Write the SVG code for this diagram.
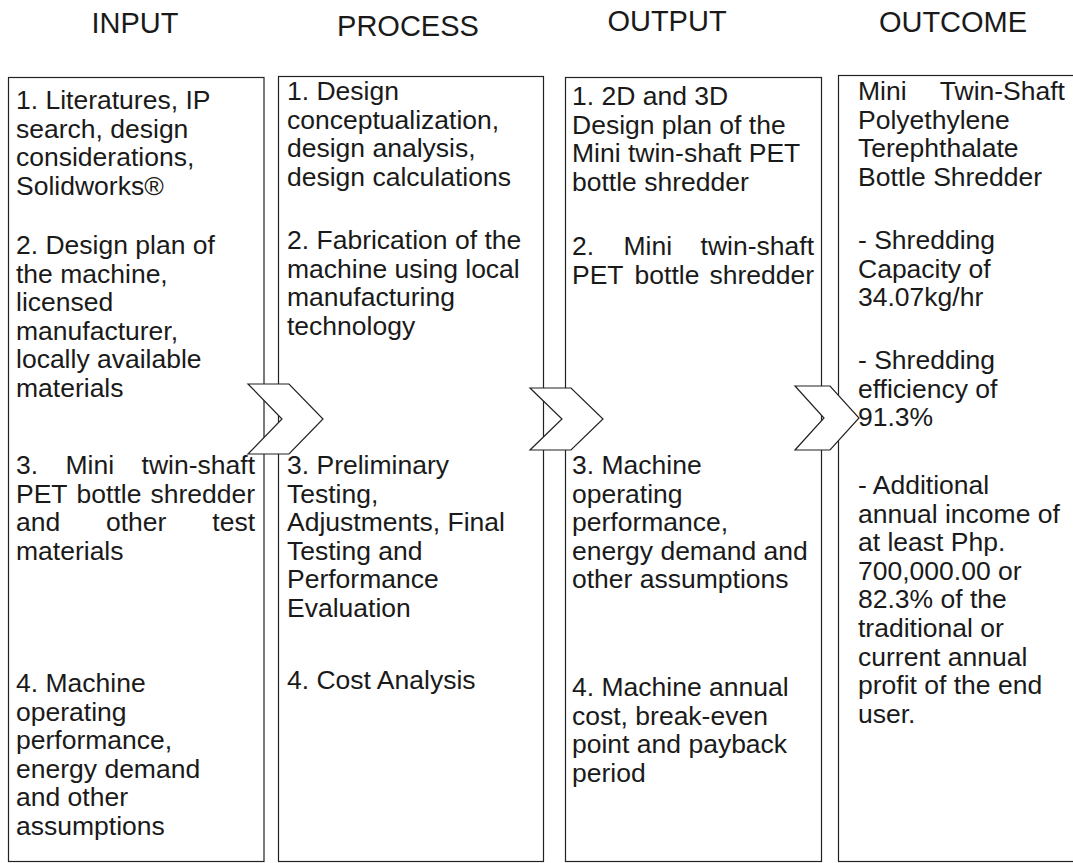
<svg xmlns="http://www.w3.org/2000/svg" width="1073" height="863" viewBox="0 0 1073 863">
<style>
.hd{font-family:"Liberation Sans",Arial,sans-serif;font-size:29px;fill:#1a1a1a;text-anchor:middle}
.t{font-family:"Liberation Sans",Arial,sans-serif;font-size:26.5px;fill:#1a1a1a}
.e{text-anchor:end}
.box{fill:#fff;stroke:#222;stroke-width:1.2}
.chev{fill:#fff;stroke:#222;stroke-width:1.2;stroke-linejoin:miter}
</style>
<rect width="1073" height="863" fill="#fff"/>
<g id="headers">
<text class="hd" x="135" y="33">INPUT</text>
<text class="hd" x="408" y="36">PROCESS</text>
<text class="hd" x="667" y="31">OUTPUT</text>
<text class="hd" x="953" y="32">OUTCOME</text>
</g>
<g id="input">
<rect class="box" x="8.5" y="77.5" width="255.5" height="784"/>
<text class="t" x="16" y="109">1. Literatures, IP</text>
<text class="t" x="16" y="137.6">search, design</text>
<text class="t" x="16" y="166.2">considerations,</text>
<text class="t" x="16" y="194.8">Solidworks®</text>
<text class="t" x="16" y="254">2. Design plan of</text>
<text class="t" x="16" y="282.6">the machine,</text>
<text class="t" x="16" y="311.2">licensed</text>
<text class="t" x="16" y="339.8">manufacturer,</text>
<text class="t" x="16" y="368.4">locally available</text>
<text class="t" x="16" y="397">materials</text>
<text class="t" y="474"><tspan x="16">3.</tspan><tspan x="65.5">Mini</tspan><tspan class="e" x="255">twin-shaft</tspan></text>
<text class="t" y="502.6"><tspan x="16">PET</tspan><tspan x="76.6">bottle</tspan><tspan class="e" x="255">shredder</tspan></text>
<text class="t" y="531.2"><tspan x="16">and</tspan><tspan x="106">other</tspan><tspan class="e" x="255">test</tspan></text>
<text class="t" x="16" y="559.8">materials</text>
<text class="t" x="16" y="692">4. Machine</text>
<text class="t" x="16" y="720.6">operating</text>
<text class="t" x="16" y="749.2">performance,</text>
<text class="t" x="16" y="777.8">energy demand</text>
<text class="t" x="16" y="806.4">and other</text>
<text class="t" x="16" y="835">assumptions</text>
</g>
<g id="process">
<rect class="box" x="278.5" y="76.5" width="265" height="785"/>
<text class="t" x="287" y="100">1. Design</text>
<text class="t" x="287" y="128.6">conceptualization,</text>
<text class="t" x="287" y="157.2">design analysis,</text>
<text class="t" x="287" y="185.8">design calculations</text>
<text class="t" x="287" y="249">2. Fabrication of the</text>
<text class="t" x="287" y="277.6">machine using local</text>
<text class="t" x="287" y="306.2">manufacturing</text>
<text class="t" x="287" y="334.8">technology</text>
<text class="t" x="287" y="474">3. Preliminary</text>
<text class="t" x="287" y="502.6">Testing,</text>
<text class="t" x="287" y="531.2">Adjustments, Final</text>
<text class="t" x="287" y="559.8">Testing and</text>
<text class="t" x="287" y="588.4">Performance</text>
<text class="t" x="287" y="617">Evaluation</text>
<text class="t" x="287" y="689">4. Cost Analysis</text>
</g>
<g id="output">
<rect class="box" x="565.5" y="77.5" width="256" height="784"/>
<text class="t" x="572" y="105">1. 2D and 3D</text>
<text class="t" x="572" y="133.6">Design plan of the</text>
<text class="t" x="572" y="162.2">Mini twin-shaft PET</text>
<text class="t" x="572" y="190.8">bottle shredder</text>
<text class="t" y="255"><tspan x="572">2.</tspan><tspan x="623.5">Mini</tspan><tspan class="e" x="814">twin-shaft</tspan></text>
<text class="t" y="283.6"><tspan x="572">PET</tspan><tspan x="634.6">bottle</tspan><tspan class="e" x="814">shredder</tspan></text>
<text class="t" x="572" y="474">3. Machine</text>
<text class="t" x="572" y="502.6">operating</text>
<text class="t" x="572" y="531.2">performance,</text>
<text class="t" x="572" y="559.8">energy demand and</text>
<text class="t" x="572" y="588.4">other assumptions</text>
<text class="t" x="572" y="696">4. Machine annual</text>
<text class="t" x="572" y="724.6">cost, break-even</text>
<text class="t" x="572" y="753.2">point and payback</text>
<text class="t" x="572" y="781.8">period</text>
</g>
<g id="outcome">
<rect class="box" x="838.5" y="75.5" width="250" height="786"/>
<text class="t" y="100"><tspan x="858">Mini</tspan><tspan class="e" x="1065">Twin-Shaft</tspan></text>
<text class="t" x="858" y="128.6">Polyethylene</text>
<text class="t" x="858" y="157.2">Terephthalate</text>
<text class="t" x="858" y="185.8">Bottle Shredder</text>
<text class="t" x="858" y="249">- Shredding</text>
<text class="t" x="858" y="277.6">Capacity of</text>
<text class="t" x="858" y="306.2">34.07kg/hr</text>
<text class="t" x="858" y="369">- Shredding</text>
<text class="t" x="858" y="397.6">efficiency of</text>
<text class="t" x="858" y="426.2">91.3%</text>
<text class="t" x="858" y="494">- Additional</text>
<text class="t" x="858" y="522.6">annual income of</text>
<text class="t" x="858" y="551.2">at least Php.</text>
<text class="t" x="858" y="579.8">700,000.00 or</text>
<text class="t" x="858" y="608.4">82.3% of the</text>
<text class="t" x="858" y="637">traditional or</text>
<text class="t" x="858" y="665.6">current annual</text>
<text class="t" x="858" y="694.2">profit of the end</text>
<text class="t" x="858" y="722.8">user.</text>
</g>
<g id="connectors">
<polygon class="chev" points="248,384 289,384 323,419 289,454 248,454 282,419"/>
<polygon class="chev" points="530,388 571,388 603,419 571,450 530,450 562,419"/>
<polygon class="chev" points="795,386 830,386 859,418 830,450 795,450 824,418"/>
</g>
</svg>
